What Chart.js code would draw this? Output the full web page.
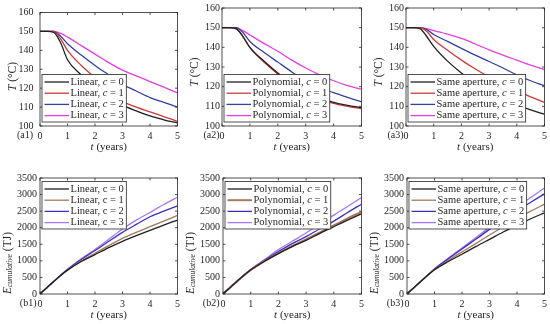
<!DOCTYPE html>
<html>
<head>
<meta charset="utf-8">
<script src="https://cdn.jsdelivr.net/npm/chart.js@4.4.0/dist/chart.umd.min.js"></script>
<style>
  body { margin: 0; background: #fff; width: 550px; height: 324px; position: relative; overflow: hidden; }
  canvas { position: absolute; }
</style>
</head>
<body>
<canvas id="a1"></canvas>
<canvas id="a2"></canvas>
<canvas id="a3"></canvas>
<canvas id="b1"></canvas>
<canvas id="b2"></canvas>
<canvas id="b3"></canvas>
<script>
// time axis (years) and tick labels
const years = [0, 0.25, 0.5, 0.75, 1, 1.5, 2, 2.5, 3, 3.5, 4, 4.5, 5];
const yearTicks = [0, 1, 2, 3, 4, 5];
const tempTicks = [100, 110, 120, 130, 140, 150, 160];
const energyTicks = [0, 500, 1000, 1500, 2000, 2500, 3000, 3500];
const cValues = [0, 1, 2, 3];

// outlet temperature T (°C), one row per c
const tempLinear = [
  [150, 150, 149.5, 144, 135, 127, 120.5, 115.5, 111, 108, 105.3, 103.3, 101.6],
  [150, 150, 150, 146, 140, 132, 125.5, 118.5, 113, 110, 107.5, 105, 102.5],
  [150, 150, 150, 147.5, 143.5, 137.5, 132, 127, 122, 118.5, 115, 112.5, 110],
  [150, 150, 150, 149, 147, 142.5, 138, 133.5, 129.5, 126.5, 123.5, 120.5, 117.5]
];
const tempPolynomial = [
  [150, 150, 149.5, 145.5, 140, 133, 127, 122, 117.5, 114.5, 112, 110.5, 109.3],
  [150, 150, 149.5, 145.5, 139.8, 132.5, 126.5, 121.5, 117, 114, 111.5, 110, 108.8],
  [150, 150, 150, 147.5, 143, 137.5, 132.5, 127.5, 123, 119.5, 117, 114.5, 112.3],
  [150, 150, 150, 148.5, 146.3, 142, 138, 133.5, 129.5, 126, 123, 120.5, 118.7]
];
const tempSameAperture = [
  [150, 150, 149.5, 145.5, 140.5, 133, 127, 122, 117.5, 113.8, 110.8, 108.2, 106],
  [150, 150, 150, 148, 144, 138.5, 133.5, 129, 125, 121.5, 118, 114.8, 112],
  [150, 150, 150, 149, 146.5, 143, 139.5, 136, 132.8, 129.5, 126, 123, 120.5],
  [150, 150, 150, 149.5, 148.5, 146.7, 144.5, 141.7, 138.7, 136, 133.5, 131, 128.7]
];

// cumulative energy E (TJ), one row per c
const energyLinear = [
  [0, 190, 380, 560, 720, 980, 1190, 1400, 1590, 1760, 1920, 2080, 2230],
  [0, 190, 380, 560, 725, 1000, 1230, 1460, 1680, 1860, 2030, 2200, 2370],
  [0, 190, 380, 565, 740, 1040, 1310, 1590, 1860, 2100, 2330, 2500, 2660],
  [0, 190, 380, 565, 745, 1060, 1340, 1650, 1960, 2230, 2460, 2700, 2920]
];
const energyPolynomial = [
  [0, 190, 380, 560, 725, 990, 1220, 1430, 1620, 1830, 2030, 2230, 2420],
  [0, 190, 380, 560, 725, 995, 1235, 1450, 1650, 1860, 2070, 2280, 2480],
  [0, 190, 380, 565, 735, 1020, 1280, 1520, 1730, 1970, 2200, 2460, 2710],
  [0, 190, 380, 565, 740, 1040, 1340, 1590, 1840, 2110, 2380, 2640, 2910]
];
const energySameAperture = [
  [0, 190, 380, 560, 730, 980, 1200, 1430, 1650, 1870, 2080, 2270, 2450],
  [0, 190, 380, 565, 740, 1010, 1270, 1520, 1780, 2030, 2280, 2500, 2710],
  [0, 190, 380, 570, 755, 1060, 1360, 1650, 1950, 2230, 2520, 2770, 3020],
  [0, 190, 380, 570, 760, 1080, 1390, 1700, 2010, 2310, 2620, 2910, 3200]
];

const topColors = ['#1f1f1f', '#cf3b3b', '#3340a3', '#e63ee0'];
const bottomColors = ['#1f1f1f', '#a6785e', '#3b2fc4', '#a577f0'];

const SERIF = "'Liberation Serif', 'DejaVu Serif', serif";
const INK = '#262626';

function drawRuns(ctx, parts, x, y, align) {
  let w = 0;
  parts.forEach(p => { ctx.font = p.font; w += ctx.measureText(p.text).width; });
  let cx = align === 'center' ? x - w / 2 : align === 'right' ? x - w : x;
  ctx.textAlign = 'left';
  parts.forEach(p => {
    ctx.font = p.font;
    ctx.fillText(p.text, cx, y + (p.dy || 0));
    cx += ctx.measureText(p.text).width;
  });
  return w;
}

const decor = {
  id: 'decor',
  afterDraw(chart, args, o) {
    const ctx = chart.ctx, a = chart.chartArea;
    const xs = chart.scales.x, ys = chart.scales.y;
    ctx.save();
    ctx.strokeStyle = INK;
    ctx.lineWidth = 0.8;
    ctx.strokeRect(a.left, a.top, a.width, a.height);
    ctx.beginPath();
    xs.ticks.forEach(tk => {
      const px = xs.getPixelForValue(tk.value);
      ctx.moveTo(px, a.bottom); ctx.lineTo(px, a.bottom - 2.5);
      ctx.moveTo(px, a.top); ctx.lineTo(px, a.top + 2.5);
    });
    ys.ticks.forEach(tk => {
      const py = ys.getPixelForValue(tk.value);
      ctx.moveTo(a.left, py); ctx.lineTo(a.left + 2.5, py);
      ctx.moveTo(a.right, py); ctx.lineTo(a.right - 2.5, py);
    });
    ctx.stroke();

    ctx.fillStyle = INK;
    ctx.textBaseline = 'middle';
    // x title
    drawRuns(ctx, [
      { text: 't', font: 'italic 11px ' + SERIF },
      { text: ' (years)', font: '11px ' + SERIF }
    ], (a.left + a.right) / 2, a.bottom + 21, 'center');
    // panel tag
    drawRuns(ctx, [{ text: o.tag, font: '10px ' + SERIF }], a.left - o.tagGap, a.bottom + 9, 'right');
    // y title (rotated)
    ctx.save();
    ctx.translate(a.left - o.yTitleDx, a.top + o.yTitleDy);
    ctx.rotate(-Math.PI / 2);
    if (o.kind === 'temp') {
      drawRuns(ctx, [
        { text: 'T', font: 'italic 11.5px ' + SERIF },
        { text: ' (°C)', font: '11.5px ' + SERIF }
      ], 0, 0, 'center');
    } else {
      drawRuns(ctx, [
        { text: 'E', font: 'italic 11.5px ' + SERIF },
        { text: 'cumulative', font: 'italic 7.5px ' + SERIF, dy: 3 },
        { text: ' (TJ)', font: '11.5px ' + SERIF }
      ], 0, 0, 'center');
    }
    ctx.restore();

    // legend
    const labels = cValues.map(c => [
      { text: o.name + ', ', font: '10.5px ' + SERIF },
      { text: 'c', font: (o.uprightC ? '' : 'italic ') + '10.5px ' + SERIF },
      { text: ' = ' + c, font: '10.5px ' + SERIF }
    ]);
    let tw = 0;
    labels.forEach(parts => {
      let w = 0;
      parts.forEach(p => { ctx.font = p.font; w += ctx.measureText(p.text).width; });
      tw = Math.max(tw, w);
    });
    const bw = 28.5 + tw + 2.5, bh = 47.5;
    const bx = a.left + 2;
    const by = o.legendAt === 'bottom' ? a.bottom - 4 - bh : a.top + 3.5;
    ctx.fillStyle = '#fff';
    ctx.fillRect(bx, by, bw, bh);
    ctx.strokeStyle = INK;
    ctx.lineWidth = 0.8;
    ctx.strokeRect(bx, by, bw, bh);
    chart.data.datasets.forEach((ds, i) => {
      const ry = by + 7.5 + i * 11.2;
      ctx.strokeStyle = ds.borderColor;
      ctx.lineWidth = ds.borderWidth;
      ctx.beginPath();
      ctx.moveTo(bx + 2.5, ry); ctx.lineTo(bx + 27, ry);
      ctx.stroke();
      ctx.fillStyle = INK;
      drawRuns(ctx, labels[i], bx + 28.5, ry, 'left');
    });
    ctx.restore();
  }
};

function makePanel(p) {
  const cv = document.getElementById(p.id);
  const [l, t, r, b] = p.rect;
  const w = (r - l) + 46, h = (b - t) + 42;
  cv.width = w; cv.height = h;
  cv.style.left = (l - 40) + 'px';
  cv.style.top = (t - 6) + 'px';
  cv.style.width = w + 'px';
  cv.style.height = h + 'px';
  const yTickValues = p.kind === 'temp' ? tempTicks : energyTicks;
  new Chart(cv, {
    type: 'line',
    data: {
      datasets: p.series.map((vals, i) => ({
        label: p.name + ', c = ' + cValues[i],
        data: years.map((x, k) => ({ x: x, y: vals[k] })),
        borderColor: p.colors[i],
        borderWidth: p.widths ? p.widths[i] : 1.3,
        pointRadius: 0,
        fill: false,
        cubicInterpolationMode: 'monotone'
      }))
    },
    options: {
      responsive: false,
      animation: false,
      devicePixelRatio: 1,
      layout: { padding: { left: 0, top: 6, right: 6, bottom: 0 } },
      plugins: {
        legend: { display: false },
        tooltip: { enabled: false },
        decor: {
          tag: p.tag, tagGap: p.yPad + 0.5, kind: p.kind, name: p.name,
          legendAt: p.kind === 'temp' ? 'bottom' : 'top',
          yTitleDx: p.kind === 'temp' ? 27 : 32.5,
          yTitleDy: p.kind === 'temp' ? 64 : 85,
          uprightC: p.uprightC
        }
      },
      scales: {
        x: {
          type: 'linear', min: 0, max: 5,
          afterBuildTicks: s => { s.ticks = yearTicks.map(v => ({ value: v })); },
          afterFit: s => { s.height = 36; },
          grid: { display: false, drawTicks: false },
          border: { display: false },
          ticks: { color: INK, padding: 4, maxRotation: 0, font: { family: SERIF, size: 10 }, callback: v => String(v) }
        },
        y: {
          type: 'linear', min: yTickValues[0], max: yTickValues[yTickValues.length - 1],
          afterBuildTicks: s => { s.ticks = yTickValues.map(v => ({ value: v })); },
          afterFit: s => { s.width = 40; },
          grid: { display: false, drawTicks: false },
          border: { display: false },
          ticks: { color: INK, padding: p.yPad, font: { family: SERIF, size: 10 }, callback: v => String(v) }
        }
      }
    },
    plugins: [decor]
  });
}

const panels = [
  { id: 'a1', rect: [40, 6, 178, 126], kind: 'temp', name: 'Linear', tag: '(a1)', yPad: 6.5, series: tempLinear, colors: topColors },
  { id: 'a2', rect: [222, 6, 362, 126], kind: 'temp', name: 'Polynomial', tag: '(a2)', yPad: 2, series: tempPolynomial, colors: topColors },
  { id: 'a3', rect: [406, 6, 545, 126], kind: 'temp', name: 'Same aperture', tag: '(a3)', yPad: 2, series: tempSameAperture, colors: topColors },
  { id: 'b1', rect: [40, 175, 178, 294], kind: 'energy', name: 'Linear', tag: '(b1)', yPad: 3, series: energyLinear, colors: bottomColors, uprightC: true },
  { id: 'b2', rect: [223, 175, 362, 294], kind: 'energy', name: 'Polynomial', tag: '(b2)', yPad: 3, series: energyPolynomial, colors: bottomColors, widths: [1.3, 2, 1.3, 1.3] },
  { id: 'b3', rect: [407, 175, 545, 294], kind: 'energy', name: 'Same aperture', tag: '(b3)', yPad: 3, series: energySameAperture, colors: bottomColors }
];
panels.forEach(makePanel);
</script>
</body>
</html>
